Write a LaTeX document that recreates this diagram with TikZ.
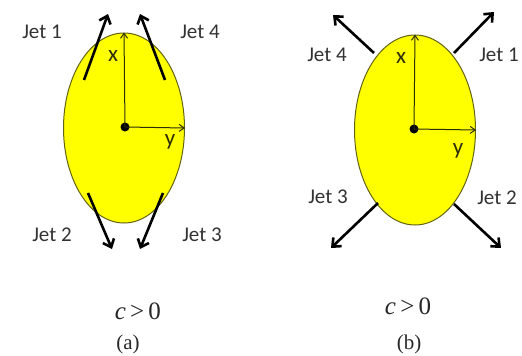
\documentclass[tikz,border=0pt]{standalone}
\usepackage{fontspec}
\setmainfont{Liberation Serif}
\newfontfamily\jetfont{Carlito}
\usetikzlibrary{arrows.meta,positioning,shapes.geometric}
\definecolor{eggyellow}{RGB}{255,255,0}
\definecolor{rimolive}{RGB}{100,100,20}
\definecolor{axisdark}{RGB}{45,45,10}
\definecolor{labelgray}{RGB}{50,50,50}

\tikzset{
  egg/.style={draw=rimolive, line width=1pt, fill=eggyellow, ellipse, minimum width=121pt, minimum height=190pt, inner sep=0pt},
  centre/.style={circle, fill=black, minimum size=9pt, inner sep=0pt},
  axisline/.style={draw=axisdark, line width=1pt, -{Straight Barb[length=5pt, width=7pt]}},
  jetline/.style={line width=2.6pt, -{Straight Barb[length=7pt, width=12pt, line width=2.6pt]}},
  jetlabel/.style={font=\jetfont\fontsize{21}{23}\selectfont, text=labelgray},
  axislabel/.style={font=\jetfont\fontsize{23}{25}\selectfont, text=axisdark},
  caselabel/.style={font=\fontsize{21}{24}\selectfont, text=black!85},
  condlabel/.style={font=\fontsize{25}{28}\selectfont, text=black!85}
}

\begin{document}
\begin{tikzpicture}[x=1pt, y=-1pt]
    \useasboundingbox (0,0) rectangle (522,356);
    % (a) jets along the long axis
    \node[egg] (egga) at (124,128) {};
    \node[centre] (oa) at (125,127) {};
    \draw[axisline] (oa.center) -- (egga.north);
    \draw[axisline] (oa.center) -- (egga.east);
    \node[axislabel] (xa) at (113,56) {x};
    \node[axislabel] (ya) at (170,142) {y};
    \coordinate (a1s) at (84,80);   \coordinate (a1e) at (108,14);
    \coordinate (a4s) at (165,80);  \coordinate (a4e) at (140,14);
    \coordinate (a2s) at (88,193);  \coordinate (a2e) at (112,249);
    \coordinate (a3s) at (163,193); \coordinate (a3e) at (140,249);
    \draw[jetline] (a1s) -- (a1e);
    \draw[jetline] (a4s) -- (a4e);
    \draw[jetline] (a2s) -- (a2e);
    \draw[jetline] (a3s) -- (a3e);
    \node[jetlabel] (ja1) at (42,32) {Jet 1};
    \node[jetlabel] (ja4) at (200,32) {Jet 4};
    \node[jetlabel] (ja2) at (52,235) {Jet 2};
    \node[jetlabel] (ja3) at (202,235) {Jet 3};
    \node[condlabel] (ca) at (138,311) {\textit{c}\,>\,0};
    \node[caselabel] (capa) at (128,344) {(a)};
    % (b) jets on the diagonals
    \node[egg] (eggb) at (415,130) {};
    \node[centre] (ob) at (414,129) {};
    \draw[axisline] (ob.center) -- (eggb.north);
    \draw[axisline] (ob.center) -- (eggb.east);
    \node[axislabel] (xb) at (401,58) {x};
    \node[axislabel] (yb) at (458,151) {y};
    \coordinate (b4s) at (374,53);  \coordinate (b4e) at (333,15);
    \coordinate (b1s) at (454,53);  \coordinate (b1e) at (494,12);
    \coordinate (b3s) at (378,203); \coordinate (b3e) at (331,248);
    \coordinate (b2s) at (454,204); \coordinate (b2e) at (501,248);
    \draw[jetline] (b4s) -- (b4e);
    \draw[jetline] (b1s) -- (b1e);
    \draw[jetline] (b3s) -- (b3e);
    \draw[jetline] (b2s) -- (b2e);
    \node[jetlabel] (jb4) at (327,55) {Jet 4};
    \node[jetlabel] (jb1) at (499,55) {Jet 1};
    \node[jetlabel] (jb3) at (328,197) {Jet 3};
    \node[jetlabel] (jb2) at (497,198) {Jet 2};
    \node[condlabel] (cb) at (408,306) {\textit{c}\,>\,0};
    \node[caselabel] (capb) at (409,344) {(b)};
\end{tikzpicture}
\end{document}
